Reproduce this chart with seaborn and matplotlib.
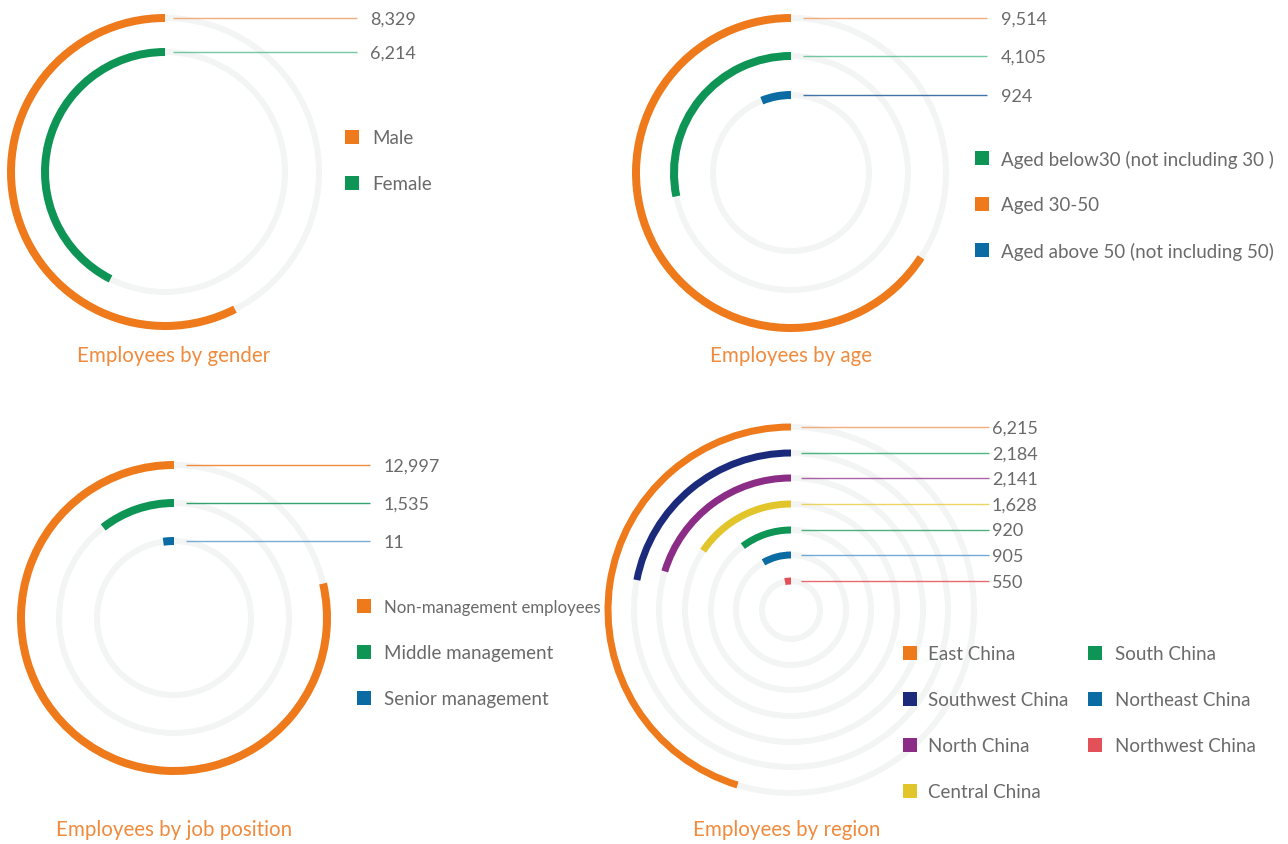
import numpy as np
import matplotlib
matplotlib.use("Agg")
import matplotlib.pyplot as plt
import seaborn as sns

# ---------------- data ----------------
gender_labels = ["Male", "Female"]
gender_values = [8329, 6214]
gender_arc_deg = [207, 153]

age_ring_labels = ["Aged 30-50", "Aged below30 (not including 30 )", "Aged above 50 (not including 50)"]
age_values = [9514, 4105, 924]
age_arc_deg = [237, 101.5, 22]
age_legend_order = [1, 0, 2]

job_labels = ["Non-management employees", "Middle management", "Senior management"]
job_values = [12997, 1535, 11]
job_arc_deg = [283, 38, 8]

region_labels = ["East China", "Southwest China", "North China", "Central China",
                 "South China", "Northeast China", "Northwest China"]
region_values = [6215, 2184, 2141, 1628, 920, 905, 550]
region_arc_deg = [163, 79, 73, 56, 37, 30, 12]

titles = ["Employees by gender", "Employees by age", "Employees by job position", "Employees by region"]

# ---------------- style ----------------
sns.set_theme(style="white")
plt.rcParams["font.family"] = ["Lato", "DejaVu Sans"]

ORANGE = "#EE7A1B"
GREEN = "#0E9455"
BLUE = "#0B6CA3"
NAVY = "#1C2A7C"
PURPLE = "#8B2D87"
YELLOW = "#E2C52A"
RED = "#E25058"
TRACK = "#F3F4F4"
TEXT = "#6A6A6A"
TITLE = "#F08A3C"
FS_NUM = 13
FS_LEG = 13.5
FS_TITLE = 14.8
DY = 1.5  # small text baseline nudge (px)

W, H = 1288, 844
fig = plt.figure(figsize=(W / 100, H / 100), dpi=100)
fig.patch.set_facecolor("white")

over = fig.add_axes([0, 0, 1, 1])
over.set_xlim(0, W)
over.set_ylim(H, 0)
over.axis("off")
over.set_facecolor("none")
over.set_zorder(10)


def panel(cx, cy, radii, arcs, colors, line_colors, values, x0, x1, xt,
          thick=8, track=6):
    R = max(radii) + 12
    ax = fig.add_axes([(cx - R) / W, (H - cy - R) / H, 2 * R / W, 2 * R / H],
                      projection="polar")
    ax.set_theta_zero_location("N")
    ax.set_theta_direction(1)
    ax.set_ylim(0, R)
    ax.axis("off")
    ax.set_facecolor("none")
    for r, a, c in zip(radii, arcs, colors):
        ax.barh(r, 2 * np.pi, left=0, height=track, color=TRACK, align="center", linewidth=0)
        ax.barh(r, np.deg2rad(a), left=0, height=thick, color=c, align="center", linewidth=0)
    for r, lc, v in zip(radii, line_colors, values):
        y = cy - r
        over.plot([x0, x1], [y, y], color=lc, lw=1.0, alpha=0.85, solid_capstyle="butt")
        over.text(xt, y + DY, f"{v:,}", color=TEXT, fontsize=FS_NUM, va="center", ha="left")


def legend(items, xs, xt, ys, sizes=None):
    for i, ((lab, col), y) in enumerate(zip(items, ys)):
        fs = FS_LEG if sizes is None else sizes[i]
        over.scatter([xs], [y], marker="s", s=105, color=col, linewidths=0)
        over.text(xt, y + DY, lab, color=TEXT, fontsize=fs, va="center", ha="left")


# gender
panel(165, 172, [154, 120], gender_arc_deg, [ORANGE, GREEN], ["#F2A064", "#5CBF92"],
      gender_values, 173, 357, 370, thick=8)
legend(list(zip(gender_labels, [ORANGE, GREEN])), 352, 372, [137, 183])
over.text(174, 354 + DY, titles[0], color=TITLE, fontsize=FS_TITLE, ha="center", va="center")

# age
age_cols = [ORANGE, GREEN, BLUE]
panel(791, 173, [155, 117, 78], age_arc_deg, age_cols, ["#F2A064", "#5CBF92", "#1F5C99"],
      age_values, 803, 987, 1001, thick=8)
legend([(age_ring_labels[i], age_cols[i]) for i in age_legend_order], 982, 1001, [158, 204, 250])
over.text(791, 354 + DY, titles[1], color=TITLE, fontsize=FS_TITLE, ha="center", va="center")

# job
job_cols = [ORANGE, GREEN, BLUE]
panel(174, 618, [153, 115, 77], job_arc_deg, job_cols, [ORANGE, GREEN, "#5F9FD0"],
      job_values, 186, 370, 384, thick=8)
legend(list(zip(job_labels, job_cols)), 364, 384, [606, 652, 698], sizes=[12.1, FS_LEG, FS_LEG])
over.text(174, 829 + DY, titles[2], color=TITLE, fontsize=FS_TITLE, ha="center", va="center")

# region
reg_cols = [ORANGE, NAVY, PURPLE, YELLOW, GREEN, BLUE, RED]
reg_line_cols = ["#F2A064", "#2FAA6C", "#9B4A98", "#E8CE4A", "#2FA36A", "#5B9BD0", "#E25058"]
panel(791, 610, [183, 157, 132, 106, 80, 55, 29], region_arc_deg, reg_cols, reg_line_cols,
      region_values, 801, 989, 992, thick=7)
legend(list(zip(region_labels[:4], reg_cols[:4])), 910, 928, [653, 699, 745, 791])
legend(list(zip(region_labels[4:], reg_cols[4:])), 1095, 1115, [653, 699, 745])
over.text(787, 829 + DY, titles[3], color=TITLE, fontsize=FS_TITLE, ha="center", va="center")

fig.savefig("out.png", dpi=100, facecolor="white")
